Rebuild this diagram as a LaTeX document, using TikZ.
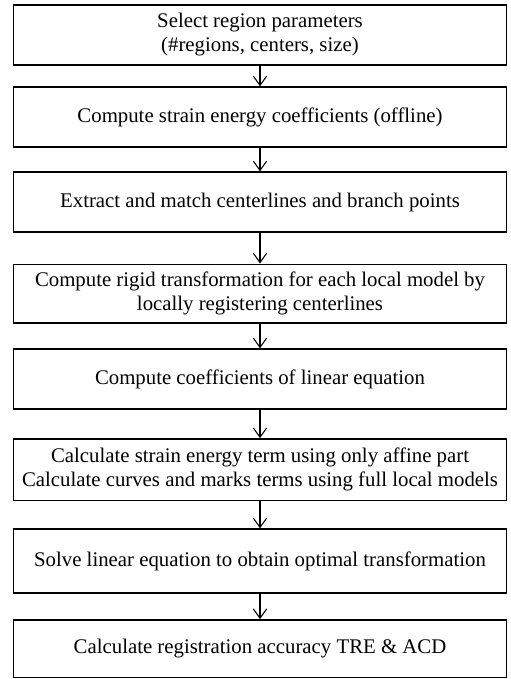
\documentclass[tikz,border=0pt]{standalone}
\usepackage{fontspec}
\setmainfont{Liberation Serif}
\usetikzlibrary{arrows.meta}

\tikzset{
	stepbox/.style={draw, line width=1pt, rectangle, align=center, minimum width=370pt, inner sep=0pt, font=\fontsize{15.6}{18}\selectfont},
	flowarrow/.style={line width=0.8pt, -{Straight Barb[length=7pt,width=10pt]}}
}

\begin{document}
\begin{tikzpicture}[x=0.75pt, y=-0.75pt]
		%%%%% START %%%%%
		\useasboundingbox (0, 0) rectangle (511, 679);
		
		\node[stepbox, minimum height=45pt] (s1) at (260, 35) {Select region parameters\\(\#regions, centers, size)};
		\node[stepbox, minimum height=45pt] (s2) at (260, 117) {Compute strain energy coefficients (offline)};
		\node[stepbox, minimum height=45pt] (s3) at (260, 202) {Extract and match centerlines and branch points};
		\node[stepbox, minimum height=44pt] (s4) at (260, 293.5) {Compute rigid transformation for each local model by\\locally registering centerlines};
		\node[stepbox, minimum height=45pt] (s5) at (260, 379) {Compute coefficients of linear equation};
		\node[stepbox, minimum height=46pt] (s6) at (260, 469.5) {Calculate strain energy term using only affine part\\Calculate curves and marks terms using full local models};
		\node[stepbox, minimum height=48pt] (s7) at (260, 561) {Solve linear equation to obtain optimal transformation};
		\node[stepbox, minimum height=43pt] (s8) at (260, 648.5) {Calculate registration accuracy TRE \& ACD};
		
		\foreach \a/\b in {s1/s2, s2/s3, s3/s4, s4/s5, s5/s6, s6/s7, s7/s8}
			\draw[flowarrow] (\a) -- (\b);
		
		%%%%% END %%%%%
\end{tikzpicture}
\end{document}
